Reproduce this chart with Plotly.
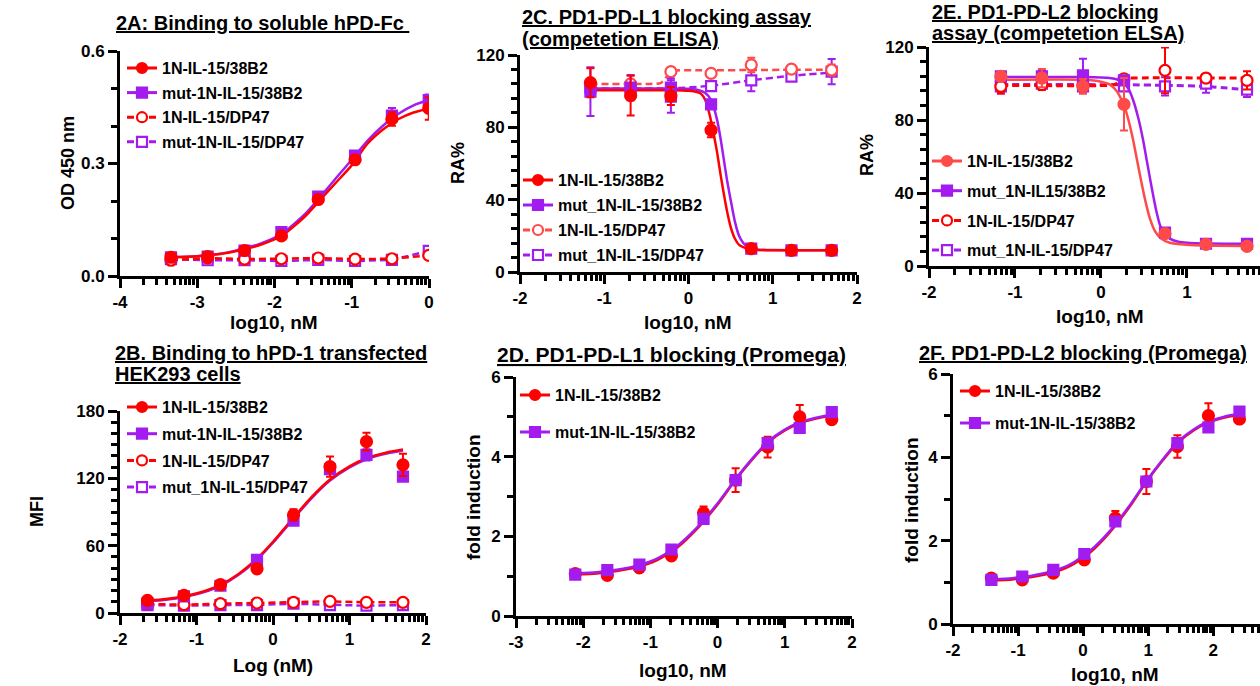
import math
import plotly.graph_objects as go

W, H = 1260, 686
FONT = "Liberation Sans, Arial, Helvetica, sans-serif"
RED = "#FF0000"
RED_L = "#FF4A4A"
PUR = "#A21CF0"

# ---------------- 2A ----------------
a_x = [-3.34, -2.865, -2.388, -1.911, -1.434, -0.957, -0.48, -0.003]
a_38 = [0.050, 0.052, 0.068, 0.107, 0.204, 0.310, 0.419, 0.447]
a_38_err = [0.004, 0.004, 0.005, 0.006, 0.012, 0.008, 0.018, 0.030]
a_mut38 = [0.050, 0.052, 0.068, 0.117, 0.212, 0.321, 0.428, 0.469]
a_mut38_err = [0.003, 0.003, 0.004, 0.005, 0.012, 0.008, 0.020, 0.015]
a_dp = [0.042, 0.048, 0.045, 0.046, 0.048, 0.045, 0.046, 0.055]
a_mutdp = [0.045, 0.042, 0.042, 0.040, 0.043, 0.040, 0.043, 0.067]
a_fit_x = [-3.34, -3.0, -2.6, -2.2, -1.9, -1.6, -1.4, -1.2, -1.0, -0.8, -0.6, -0.4, -0.2, 0.0]
a_fit_38 = [0.050, 0.053, 0.062, 0.082, 0.108, 0.160, 0.205, 0.250, 0.295, 0.352, 0.390, 0.418, 0.436, 0.447]
a_fit_mut38 = [0.050, 0.053, 0.063, 0.085, 0.113, 0.166, 0.213, 0.262, 0.310, 0.360, 0.400, 0.432, 0.455, 0.470]
a_xticks = [-4, -3, -2, -1, 0]
a_xtext = ["-4", "-3", "-2", "-1", "0"]
a_yticks = [0.0, 0.3, 0.6]
a_ytext = ["0.0", "0.3", "0.6"]
a_names = ["1N-IL-15/38B2", "mut-1N-IL-15/38B2", "1N-IL-15/DP47", "mut-1N-IL-15/DP47"]

# ---------------- 2C ----------------
c_x = [-1.164, -0.687, -0.209, 0.268, 0.745, 1.222, 1.699]
c_38 = [104.7, 97.5, 97.3, 78.5, 12.9, 12.0, 12.0]
c_38_err = [8, 11, 5, 4, 1, 1, 1]
c_mut38 = [99.7, 102.0, 102.0, 92.7, 12.9, 12.0, 12.0]
c_mut38_err = [13.5, 7, 5, 2, 1, 1, 1]
c_dp = [104.0, 104.0, 110.8, 109.8, 114.5, 112.2, 111.7]
c_dp_err = [2, 2, 2, 2, 4, 2, 3]
c_mutdp = [102.0, 102.0, 97.0, 102.8, 106.0, 108.0, 110.8]
c_mutdp_err = [3, 3, 9, 2, 6, 2, 7]
c_fit_x38 = [-1.164, -0.2, 0.0, 0.1, 0.15, 0.2, 0.24, 0.27, 0.3, 0.34, 0.38, 0.42, 0.46, 0.5, 0.55, 0.6, 0.7, 0.8, 1.0, 1.699]
c_fit_38 = [100.5, 100.5, 100.2, 99.5, 98.5, 95, 89, 83, 76, 66, 54, 43, 33, 25, 18.5, 15, 13, 12.3, 12, 12]
c_fit_xmut = [-1.164, -0.2, 0.0, 0.1, 0.2, 0.27, 0.3, 0.34, 0.38, 0.42, 0.46, 0.5, 0.55, 0.6, 0.65, 0.7, 0.8, 1.0, 1.699]
c_fit_mut38 = [101.5, 101.5, 101.3, 100.8, 99, 95, 91, 84, 74, 62, 50, 40, 28, 20, 16, 14, 12.5, 12.1, 12]
c_fit_xdp = [-1.164, -0.5, -0.33, -0.25, -0.2, 0.268, 0.745, 1.222, 1.699]
c_fit_dp = [104, 104, 104.5, 108.5, 111, 111.5, 111.7, 111.8, 111.8]
c_fit_mutdp = [101.5, 101.5, 101.5, 103, 106, 108.5, 110.3]
c_xticks = [-2, -1, 0, 1, 2]
c_xtext = ["-2", "-1", "0", "1", "2"]
c_yticks = [0, 40, 80, 120]
c_ytext = ["0", "40", "80", "120"]
c_names = ["1N-IL-15/38B2", "mut_1N-IL-15/38B2", "1N-IL-15/DP47", "mut_1N-IL-15/DP47"]

# ---------------- 2E ----------------
e_x = [-1.164, -0.687, -0.209, 0.268, 0.745, 1.222, 1.699]
e_38 = [103.9, 103.0, 98.4, 88.6, 17.7, 11.9, 10.8]
e_38_err = [2, 5, 4, 14.4, 1, 1, 1]
e_mut38 = [103.9, 103.9, 104.5, 101.7, 18.3, 12.2, 12.2]
e_mut38_err = [2, 3, 9, 2, 1, 1, 1]
e_dp = [98.4, 99.4, 99.0, 102.6, 107.2, 103.0, 101.7]
e_dp_err = [4, 3, 3, 2, 12.5, 2, 5]
e_mutdp = [98.4, 99.9, 98.4, 98.4, 98.4, 99.9, 96.6]
e_mutdp_err = [3, 2, 2, 2, 5, 5, 4]
e_fit_x38 = [-1.164, -0.2, 0.0, 0.1, 0.18, 0.23, 0.27, 0.32, 0.37, 0.42, 0.47, 0.52, 0.57, 0.63, 0.7, 0.8, 1.0, 1.222, 1.699]
e_fit_38 = [102, 102, 101, 99.5, 96, 92, 88, 80, 70, 58, 46, 35, 26, 19, 15, 12.7, 11.6, 11.2, 11]
e_fit_xmut = [-1.164, -0.2, 0.1, 0.2, 0.27, 0.32, 0.37, 0.44, 0.49, 0.54, 0.59, 0.64, 0.69, 0.745, 0.8, 0.9, 1.0, 1.222, 1.699]
e_fit_mut38 = [103.5, 103.5, 103, 102, 100, 97, 91.5, 80, 69, 56, 43, 31, 22, 17.5, 15, 13.3, 12.7, 12.3, 12.2]
e_fit_xdp = [-1.164, 0.1, 0.17, 0.22, 0.27, 0.35, 1.699]
e_fit_dp = [99, 99, 99.6, 101.5, 102.7, 103, 103]
e_fit_mutdp = [99.5, 99.5, 99.4, 99.3, 99.0, 98.4, 96.6]
e_xticks = [-2, -1, 0, 1]
e_xtext = ["-2", "-1", "0", "1"]
e_yticks = [0, 40, 80, 120]
e_ytext = ["0", "40", "80", "120"]
e_names = ["1N-IL-15/38B2", "mut_1N-IL15/38B2", "1N-IL-15/DP47", "mut_1N-IL-15/DP47"]

# ---------------- 2B ----------------
b_x = [-1.641, -1.164, -0.687, -0.209, 0.268, 0.745, 1.222, 1.699]
b_38 = [11.3, 15.7, 25.2, 39.4, 87.5, 130.5, 152.7, 132.0]
b_38_err = [1, 1.5, 1.5, 2, 5, 9, 8, 10]
b_mut38 = [8.3, 14.8, 24.3, 47.4, 82.4, 128.1, 140.9, 121.6]
b_mut38_err = [1, 1, 1.5, 2, 3, 4, 5, 3]
b_dp = [8.0, 7.4, 8.3, 8.9, 9.5, 10.4, 9.5, 9.5]
b_mutdp = [7.1, 6.5, 7.1, 7.1, 8.3, 7.1, 6.5, 7.1]
b_fit_x = [-1.641, -1.4, -1.164, -0.9, -0.687, -0.45, -0.209, 0.0, 0.268, 0.5, 0.745, 1.0, 1.222, 1.5, 1.699]
b_fit_38 = [11, 12.5, 15, 19.4, 25, 34.8, 48.5, 63.5, 85, 103, 119, 130.7, 138, 143.3, 145.8]
b_fit_mut38 = [10.3, 11.8, 14.3, 18.7, 24.2, 34, 47.6, 62.6, 84, 102, 118, 129.7, 137, 142.3, 144.8]
b_xticks = [-2, -1, 0, 1, 2]
b_xtext = ["-2", "-1", "0", "1", "2"]
b_yticks = [0, 60, 120, 180]
b_ytext = ["0", "60", "120", "180"]
b_names = ["1N-IL-15/38B2", "mut-1N-IL-15/38B2", "1N-IL-15/DP47", "mut_1N-IL-15/DP47"]

# ---------------- 2D ----------------
d_x = [-2.118, -1.641, -1.164, -0.687, -0.209, 0.268, 0.745, 1.222, 1.699]
d_38 = [1.063, 1.02, 1.21, 1.51, 2.59, 3.41, 4.24, 5.0, 4.93]
d_38_err = [0.04, 0.04, 0.04, 0.05, 0.16, 0.3, 0.26, 0.3, 0.04]
d_mut38 = [1.04, 1.15, 1.29, 1.67, 2.44, 3.41, 4.34, 4.72, 5.12]
d_mut38_err = [0.03, 0.03, 0.03, 0.05, 0.08, 0.1, 0.1, 0.08, 0.05]
d_fit_x = [-2.118, -1.8, -1.5, -1.2, -0.9, -0.6, -0.3, 0.0, 0.268, 0.5, 0.745, 1.0, 1.222, 1.45, 1.699]
d_fit_38 = [1.04, 1.07, 1.13, 1.22, 1.40, 1.72, 2.20, 2.80, 3.42, 3.90, 4.35, 4.66, 4.84, 4.95, 5.03]
d_fit_mut38 = [1.07, 1.10, 1.16, 1.26, 1.44, 1.76, 2.23, 2.83, 3.44, 3.92, 4.37, 4.68, 4.86, 4.97, 5.05]
d_xticks = [-3, -2, -1, 0, 1, 2]
d_xtext = ["-3", "-2", "-1", "0", "1", "2"]
d_yticks = [0, 2, 4, 6]
d_ytext = ["0", "2", "4", "6"]
d_names = ["1N-IL-15/38B2", "mut-1N-IL-15/38B2"]

# ---------------- 2F ----------------
f_x = [-1.41, -0.935, -0.458, 0.019, 0.496, 0.973, 1.45, 1.927, 2.404]
f_38 = [1.10, 1.06, 1.22, 1.54, 2.54, 3.42, 4.26, 5.0, 4.92]
f_38_err = [0.04, 0.04, 0.04, 0.05, 0.17, 0.3, 0.27, 0.3, 0.04]
f_mut38 = [1.06, 1.14, 1.30, 1.68, 2.46, 3.42, 4.34, 4.72, 5.10]
f_mut38_err = [0.03, 0.03, 0.03, 0.05, 0.08, 0.1, 0.1, 0.08, 0.05]
f_fit_x = [-1.41, -1.09, -0.79, -0.49, -0.19, 0.11, 0.41, 0.71, 0.977, 1.21, 1.454, 1.71, 1.93, 2.16, 2.404]
f_fit_38 = [1.04, 1.07, 1.13, 1.22, 1.40, 1.72, 2.20, 2.80, 3.42, 3.90, 4.35, 4.66, 4.84, 4.95, 5.03]
f_fit_mut38 = [1.07, 1.10, 1.16, 1.26, 1.44, 1.76, 2.23, 2.83, 3.44, 3.92, 4.37, 4.68, 4.86, 4.97, 5.05]
f_xticks = [-2, -1, 0, 1, 2]
f_xtext = ["-2", "-1", "0", "1", "2"]
f_yticks = [0, 2, 4, 6]
f_ytext = ["0", "2", "4", "6"]
f_names = ["1N-IL-15/38B2", "mut-1N-IL-15/38B2"]

# ---------------- helpers ----------------
fig = go.Figure()
TICKFONT = dict(family=FONT, size=17, color="black", weight="bold")
LEGSIZE = 16
LEGFONT = dict(family=FONT, size=LEGSIZE, color="black", weight="bold")
DASH = "7px,4px"


def ax_id(n, base):
    return base if n == 1 else f"{base}{n}"


def pts(n, x, y, err, color, symbol, fill, dashline=False):
    mode = "lines+markers" if dashline else "markers"
    fig.add_trace(go.Scatter(
        x=x, y=y, mode=mode, xaxis=ax_id(n, "x"), yaxis=ax_id(n, "y"),
        line=dict(color=color, width=2.5, dash=DASH),
        marker=dict(symbol=symbol, size=11 if symbol == "circle" else 10,
                    color=fill, line=dict(color=color, width=2.2)),
        error_y=dict(type="data", array=err, visible=err is not None,
                     color=color, thickness=2, width=4),
        showlegend=False))


def curve(n, x, y, color, dash="solid", width=2.5):
    fig.add_trace(go.Scatter(
        x=x, y=y, mode="lines", xaxis=ax_id(n, "x"), yaxis=ax_id(n, "y"),
        line=dict(color=color, width=width, dash=dash, shape="spline", smoothing=0.6),
        showlegend=False, hoverinfo="skip"))


def legend_item(n, name, color, symbol, fill, dash, group):
    fig.add_trace(go.Scatter(
        x=[None], y=[None], mode="lines+markers", name=name,
        xaxis=ax_id(n, "x"), yaxis=ax_id(n, "y"),
        legend="legend" if n == 1 else f"legend{n}", legendgroup=group,
        line=dict(color=color, width=3, dash=dash),
        marker=dict(symbol=symbol, size=10, color=fill, line=dict(color=color, width=2.2))))


AXCOMMON = dict(ticks="outside", tickwidth=2.5, tickcolor="black",
                showline=True, linewidth=3, linecolor="black",
                showgrid=False, zeroline=False, tickfont=TICKFONT)


def log_minor(rng, decades):
    vals = []
    for d in decades:
        for k in range(2, 10):
            v = d + math.log10(k)
            if rng[0] < v <= rng[1]:
                vals.append(v)
    return vals


def lin_minor(rng, step, majors):
    vals = []
    k = 0
    while rng[0] + k * step <= rng[1] + 1e-9:
        v = round(rng[0] + k * step, 6)
        if all(abs(v - m) > 1e-6 for m in majors):
            vals.append(v)
        k += 1
    return vals


layout = {}


def panel_axes(n, xpx, xr, xtv, xtt, xdec, ypx, yr, ytv, ytt, ystep):
    xa, ya = ax_id(n, "xaxis"), ax_id(n, "yaxis")
    layout[xa] = dict(domain=[xpx[0] / W, xpx[1] / W], range=xr, anchor=ax_id(n, "y"),
                      tickmode="array", tickvals=xtv, ticktext=xtt, ticklen=9, **AXCOMMON)
    layout[ya] = dict(domain=[1 - ypx[0] / H, 1 - ypx[1] / H], range=yr, anchor=ax_id(n, "x"),
                      tickmode="array", tickvals=ytv, ticktext=ytt, ticklen=9, **AXCOMMON)
    m = n + 6
    # overlay axes carrying the minor ticks
    layout[f"xaxis{m}"] = dict(overlaying=ax_id(n, "x"), anchor=ax_id(n, "y"), side="bottom",
                               range=xr, tickmode="array", tickvals=log_minor(xr, xdec),
                               ticklen=6, showticklabels=False, **AXCOMMON)
    layout[f"yaxis{m}"] = dict(overlaying=ax_id(n, "y"), anchor=ax_id(n, "x"), side="left",
                               range=yr, tickmode="array", tickvals=lin_minor(yr, ystep, ytv),
                               ticklen=6, showticklabels=False, **AXCOMMON)
    fig.add_trace(go.Scatter(x=[None], y=[None], xaxis=f"x{m}", yaxis=ax_id(n, "y"),
                             showlegend=False, hoverinfo="skip"))
    fig.add_trace(go.Scatter(x=[None], y=[None], xaxis=ax_id(n, "x"), yaxis=f"y{m}",
                             showlegend=False, hoverinfo="skip"))


# ---------------- traces ----------------
legend_item(1, a_names[0], RED, "circle", RED, "solid", "a1")
legend_item(1, a_names[1], PUR, "square", PUR, "solid", "a2")
legend_item(1, a_names[2], RED, "circle", "white", DASH, "a3")
legend_item(1, a_names[3], PUR, "square", "white", DASH, "a4")
curve(1, a_fit_x, a_fit_mut38, PUR)
curve(1, a_fit_x, a_fit_38, RED)
pts(1, a_x, a_mutdp, None, PUR, "square", "white", dashline=True)
pts(1, a_x, a_dp, None, RED, "circle", "white", dashline=True)
pts(1, a_x, a_mut38, a_mut38_err, PUR, "square", PUR)
pts(1, a_x, a_38, a_38_err, RED, "circle", RED)

legend_item(2, c_names[0], RED, "circle", RED, "solid", "c1")
legend_item(2, c_names[1], PUR, "square", PUR, "solid", "c2")
legend_item(2, c_names[2], RED_L, "circle", "white", DASH, "c3")
legend_item(2, c_names[3], PUR, "square", "white", DASH, "c4")
curve(2, c_x, c_fit_mutdp, PUR, DASH)
curve(2, c_fit_xdp, c_fit_dp, RED_L, DASH)
pts(2, c_x, c_mutdp, c_mutdp_err, PUR, "square", "white")
pts(2, c_x, c_dp, c_dp_err, RED_L, "circle", "white")
curve(2, c_fit_xmut, c_fit_mut38, PUR)
curve(2, c_fit_x38, c_fit_38, RED)
pts(2, c_x, c_mut38, c_mut38_err, PUR, "square", PUR)
pts(2, c_x, c_38, c_38_err, RED, "circle", RED)

legend_item(3, e_names[0], RED_L, "circle", RED_L, "solid", "e1")
legend_item(3, e_names[1], PUR, "square", PUR, "solid", "e2")
legend_item(3, e_names[2], RED, "circle", "white", DASH, "e3")
legend_item(3, e_names[3], PUR, "square", "white", DASH, "e4")
curve(3, e_x, e_fit_mutdp, PUR, DASH, 3)
curve(3, e_fit_xdp, e_fit_dp, RED, DASH, 3)
pts(3, e_x, e_mutdp, e_mutdp_err, PUR, "square", "white")
pts(3, e_x, e_dp, e_dp_err, RED, "circle", "white")
curve(3, e_fit_xmut, e_fit_mut38, PUR)
curve(3, e_fit_x38, e_fit_38, RED_L)
pts(3, e_x, e_mut38, e_mut38_err, PUR, "square", PUR)
pts(3, e_x, e_38, e_38_err, RED_L, "circle", RED_L)

legend_item(4, b_names[0], RED, "circle", RED, "solid", "b1")
legend_item(4, b_names[1], PUR, "square", PUR, "solid", "b2")
legend_item(4, b_names[2], RED, "circle", "white", DASH, "b3")
legend_item(4, b_names[3], PUR, "square", "white", DASH, "b4")
pts(4, b_x, b_mutdp, None, PUR, "square", "white", dashline=True)
pts(4, b_x, b_dp, None, RED, "circle", "white", dashline=True)
curve(4, b_fit_x, b_fit_mut38, PUR)
curve(4, b_fit_x, b_fit_38, RED)
pts(4, b_x, b_mut38, b_mut38_err, PUR, "square", PUR)
pts(4, b_x, b_38, b_38_err, RED, "circle", RED)

legend_item(5, d_names[0], RED, "circle", RED, "solid", "d1")
legend_item(5, d_names[1], PUR, "square", PUR, "solid", "d2")
curve(5, d_fit_x, d_fit_38, RED)
curve(5, d_fit_x, d_fit_mut38, PUR)
pts(5, d_x, d_38, d_38_err, RED, "circle", RED)
pts(5, d_x, d_mut38, d_mut38_err, PUR, "square", PUR)

legend_item(6, f_names[0], RED, "circle", RED, "solid", "f1")
legend_item(6, f_names[1], PUR, "square", PUR, "solid", "f2")
curve(6, f_fit_x, f_fit_38, RED)
curve(6, f_fit_x, f_fit_mut38, PUR)
pts(6, f_x, f_38, f_38_err, RED, "circle", RED)
pts(6, f_x, f_mut38, f_mut38_err, PUR, "square", PUR)

# ---------------- axes ----------------
panel_axes(1, (120, 429), [-4, 0], a_xticks, a_xtext, [-4, -3, -2, -1], (276, 51), [0, 0.6], a_yticks, a_ytext, 0.1)
panel_axes(2, (520, 857), [-2, 2], c_xticks, c_xtext, [-2, -1, 0, 1], (272, 55), [0, 120], c_yticks, c_ytext, 8)
panel_axes(3, (929, 1260), [-2, 1.85], e_xticks, e_xtext, [-2, -1, 0, 1], (266, 47), [0, 120], e_yticks, e_ytext, 8)
panel_axes(4, (120, 426), [-2, 2], b_xticks, b_xtext, [-2, -1, 0, 1], (613, 411), [0, 180], b_yticks, b_ytext, 10)
panel_axes(5, (516, 852), [-3, 2], d_xticks, d_xtext, [-3, -2, -1, 0, 1], (616, 377), [0, 6], d_yticks, d_ytext, 1)
panel_axes(6, (953, 1260), [-2, 2.72], f_xticks, f_xtext, [-2, -1, 0, 1, 2], (624, 374), [0, 6], f_yticks, f_ytext, 1)


def leg(px_left, row1, stride):
    h = LEGSIZE * 1.3 + 3
    return dict(x=px_left / W, y=1 - (row1 - 5 - h / 2) / H, xanchor="left", yanchor="top",
                bgcolor="rgba(0,0,0,0)", borderwidth=0, font=LEGFONT,
                traceorder="grouped", tracegroupgap=max(stride - h, 0), itemwidth=30)


layout["legend"] = leg(122, 68, 24.6)
layout["legend2"] = leg(518, 180, 25)
layout["legend3"] = leg(927, 161, 29.7)
layout["legend4"] = leg(122, 407, 26.7)
layout["legend5"] = leg(515, 395, 37)
layout["legend6"] = leg(955, 391, 32)

# ---------------- annotations ----------------
ann = []


def text(s, px, py, size, anchor="left", angle=0):
    ann.append(dict(text=s, x=px / W, y=1 - py / H, xref="paper", yref="paper",
                    xanchor=anchor, yanchor="middle", showarrow=False, textangle=angle,
                    borderpad=0,
                    font=dict(family=FONT, size=size, color="black", weight="bold")))


text("<u>2A: Binding to soluble hPD-Fc </u>", 115, 23, 20)
text("<u>2C. PD1-PD-L1 blocking assay</u>", 521, 17, 20)
text("<u>(competetion ELISA)</u>", 521, 39, 20)
text("<u>2E. PD1-PD-L2 blocking</u>", 931, 12, 20)
text("<u>assay (competetion ELSA)</u>", 931, 33, 20)
text("<u>2B. Binding to hPD-1 transfected</u>", 114, 353, 20)
text("<u>HEK293 cells</u>", 114, 374, 20)
text("<u>2D. PD1-PD-L1 blocking (Promega)</u>", 496, 354, 21)
text("<u>2F. PD1-PD-L2 blocking (Promega)</u>", 918, 353, 20)

text("OD 450 nm", 68, 163, 18, "center", -90)
text("RA%", 458, 163, 18, "center", -90)
text("RA%", 867, 155, 18, "center", -90)
text("MFI", 37, 512, 18, "center", -90)
text("fold induction", 473, 497, 19, "center", -90)
text("fold induction", 912, 500, 19, "center", -90)

text("log10, nM", 274, 322, 19, "center")
text("log10, nM", 688, 322, 19, "center")
text("log10, nM", 1100, 316, 19, "center")
text("Log (nM)", 273, 665, 19, "center")
text("log10, nM", 683, 670, 19, "center")
text("log10, nM", 1115, 674, 19, "center")

layout.update(dict(
    width=W, height=H, margin=dict(l=0, r=0, t=0, b=0, autoexpand=False),
    paper_bgcolor="white", plot_bgcolor="rgba(0,0,0,0)",
    annotations=ann, showlegend=True,
    font=dict(family=FONT, color="black"),
))
fig.update_layout(**layout)
fig.write_html("out.html",
               post_script="document.body.style.margin='0';document.body.style.padding='0';"
                           "document.documentElement.style.overflow='hidden';")
